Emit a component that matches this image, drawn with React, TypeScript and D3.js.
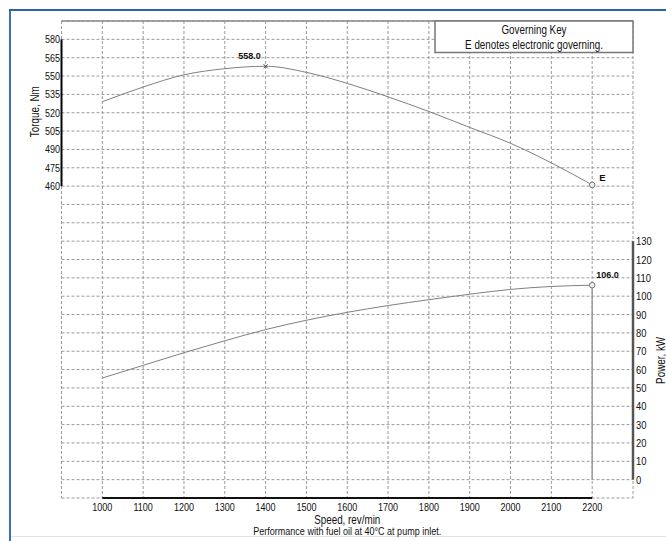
import React from "react";
import * as d3 from "d3";

const speeds = [1000, 1100, 1200, 1300, 1400, 1500, 1600, 1700, 1800, 1900, 2000, 2100, 2200];
const torqueNm = [529, 541, 551, 556, 558, 553, 544, 533, 521, 508, 495, 479, 461];
const powerKw = [55.4, 62.3, 69.2, 75.7, 81.8, 86.9, 91.2, 94.9, 98.1, 101.1, 103.7, 105.3, 106.0];
const speedTicks = [1000, 1100, 1200, 1300, 1400, 1500, 1600, 1700, 1800, 1900, 2000, 2100, 2200];
const torqueTicks = [580, 565, 550, 535, 520, 505, 490, 475, 460];
const powerTicks = [130, 120, 110, 100, 90, 80, 70, 60, 50, 40, 30, 20, 10, 0];
const peakTorqueLabel = "558.0";
const ratedPowerLabel = "106.0";
const governingLabel = "E";
const legendLines = ["Governing Key", "E denotes electronic governing."];

const W = 666;
const H = 541;
const L = 61.5;
const R = 633;
const T = 21;
const B = 498;
const FONT = "'Liberation Sans', Arial, sans-serif";
const SX = 0.82;

type NTProps = {
  x: number;
  y: number;
  size: number;
  anchor?: "start" | "middle" | "end";
  rotate?: number;
  dy?: string;
  bold?: boolean;
  children: React.ReactNode;
};

function NText({ x, y, size, anchor = "start", rotate = 0, dy, bold, children }: NTProps) {
  return (
    <text
      transform={`translate(${x},${y}) rotate(${rotate}) scale(${SX},1)`}
      textAnchor={anchor}
      fontSize={size}
      dy={dy}
      fontWeight={bold ? "bold" : "normal"}
      fill="#111"
    >
      {children}
    </text>
  );
}

export default function App() {
  const x = d3.scaleLinear().domain([900, 2300]).range([L, R]);
  const yT = d3.scaleLinear().domain([205, 595]).range([B, T]);
  const yP = d3.scaleLinear().domain([-10, 250]).range([B, T]);

  const vGrid = d3.range(900, 2301, 100);
  const hGrid = d3.range(205, 596, 15);

  const tLine = d3
    .line<number>()
    .x((_, i) => x(speeds[i]))
    .y((d) => yT(d))
    .curve(d3.curveMonotoneX)(torqueNm)!;
  const pLine = d3
    .line<number>()
    .x((_, i) => x(speeds[i]))
    .y((d) => yP(d))
    .curve(d3.curveMonotoneX)(powerKw)!;

  const last = speeds.length - 1;
  const peakIdx = torqueNm.indexOf(d3.max(torqueNm)!);
  const px = x(speeds[peakIdx]);
  const py = yT(torqueNm[peakIdx]);
  const gridColor = "#9a9a9a";
  const dash = "3,2";
  const cx = (x(1000) + x(2200)) / 2;

  return (
    <svg
      width={W}
      height={H}
      style={{ position: "absolute", left: 0, top: 0, background: "#fff" }}
      fontFamily={FONT}
    >
      <rect x={0} y={0} width={W} height={H} fill="#fff" />
      {/* frame */}
      <line x1={10} x2={10} y1={9.5} y2={H} stroke="#3b72b6" strokeWidth={2} />
      <line x1={9} x2={W} y1={10} y2={10} stroke="#2f62a3" strokeWidth={2} />
      <line x1={11} x2={W} y1={536.5} y2={536.5} stroke="#e2e2e2" strokeWidth={1} />

      {/* grid */}
      {vGrid.map((v) => (
        <line key={"v" + v} x1={x(v)} x2={x(v)} y1={T} y2={B} stroke={gridColor} strokeDasharray={dash} strokeWidth={1} />
      ))}
      {hGrid.map((v) => (
        <line key={"h" + v} x1={L} x2={R} y1={yT(v)} y2={yT(v)} stroke={gridColor} strokeDasharray={dash} strokeWidth={1} />
      ))}
      <line x1={L} x2={R} y1={T} y2={T} stroke="#8a8a8a" strokeWidth={1.5} />

      {/* legend */}
      <rect x={435} y={21} width={198} height={31.5} fill="#fff" stroke="#777" strokeWidth={1.5} />
      <NText x={534} y={34} size={12} anchor="middle">{legendLines[0]}</NText>
      <NText x={534} y={49} size={12} anchor="middle">{legendLines[1]}</NText>

      {/* left axis */}
      <line x1={L} x2={L} y1={yT(580)} y2={yT(460)} stroke="#000" strokeWidth={2} />
      {torqueTicks.map((t) => (
        <NText key={"tt" + t} x={L - 1.5} y={yT(t)} dy="0.35em" anchor="end" size={11}>{t}</NText>
      ))}
      <NText x={39} y={(yT(580) + yT(460)) / 2 - 1} rotate={-90} anchor="middle" size={12}>Torque, Nm</NText>

      {/* right axis */}
      <line x1={R} x2={R} y1={yP(130)} y2={yP(0)} stroke="#555" strokeWidth={2.5} />
      {powerTicks.map((t) => (
        <NText key={"pt" + t} x={R + 3} y={yP(t)} dy="0.35em" anchor="start" size={11.5}>{t}</NText>
      ))}
      <NText x={664.5} y={(yP(130) + yP(0)) / 2} rotate={-90} anchor="middle" size={12}>Power, kW</NText>

      {/* bottom axis */}
      <line x1={x(1000)} x2={x(2200)} y1={B} y2={B} stroke="#111" strokeWidth={2} />
      {speedTicks.map((s) => (
        <NText key={"st" + s} x={x(s)} y={511} anchor="middle" size={11}>{s}</NText>
      ))}
      <NText x={cx} y={524} anchor="middle" size={12}>Speed, rev/min</NText>
      <NText x={cx} y={534.5} anchor="middle" size={11}>Performance with fuel oil at 40°C at pump inlet.</NText>

      {/* curves */}
      <path d={tLine} fill="none" stroke="#808080" strokeWidth={1} />
      <path d={pLine} fill="none" stroke="#808080" strokeWidth={1} />
      <line x1={x(speeds[last])} x2={x(speeds[last])} y1={yP(powerKw[last])} y2={yP(0)} stroke="#9a9a9a" strokeWidth={1.5} />

      {/* markers */}
      <path d={`M${px - 2},${py - 2}L${px + 2},${py + 2}M${px - 2},${py + 2}L${px + 2},${py - 2}`} stroke="#444" strokeWidth={1} />
      <text x={px - 16} y={py - 7} textAnchor="middle" fontSize={9} fontWeight="bold" fill="#111">{peakTorqueLabel}</text>

      <circle cx={x(speeds[last])} cy={yT(torqueNm[last])} r={2.8} fill="#eee" stroke="#777" strokeWidth={1} />
      <text x={x(speeds[last]) + 7} y={yT(torqueNm[last]) - 4} fontSize={9.5} fontWeight="bold" fill="#111">{governingLabel}</text>

      <circle cx={x(speeds[last])} cy={yP(powerKw[last])} r={2.8} fill="#eee" stroke="#777" strokeWidth={1} />
      <text x={x(speeds[last]) + 4} y={yP(powerKw[last]) - 7} fontSize={9} fontWeight="bold" fill="#111">{ratedPowerLabel}</text>
    </svg>
  );
}
